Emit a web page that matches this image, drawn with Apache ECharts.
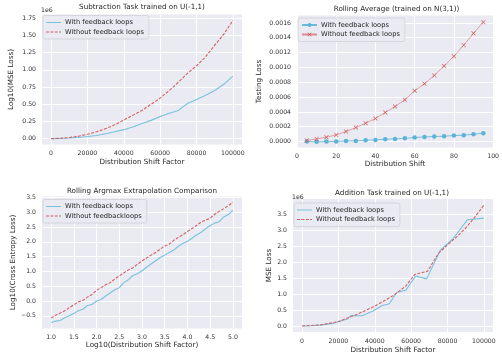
<!DOCTYPE html>
<html><head><meta charset="utf-8">
<script src="https://cdn.jsdelivr.net/npm/echarts@6/dist/echarts.min.js"></script>
<style>html,body{margin:0;padding:0;background:#fff}#c{width:502px;height:356px}</style>
</head><body><div id="c"></div>
<script>
// ---------- Panel 1: Subtraction Task (values in units of 1e6) ----------
const p1X = [0,5000,10000,15000,20000,25000,30000,35000,40000,45000,50000,55000,60000,65000,70000,75000,80000,85000,90000,95000,100000];
const p1With = [0,0.002,0.008,0.017,0.03,0.045,0.07,0.10,0.13,0.17,0.22,0.265,0.32,0.37,0.41,0.51,0.57,0.63,0.70,0.79,0.91];
const p1Without = [0,0.004,0.015,0.035,0.062,0.10,0.145,0.20,0.27,0.34,0.41,0.50,0.59,0.70,0.82,0.95,1.06,1.19,1.36,1.52,1.72];
const p1XTicks = [0,20000,40000,60000,80000,100000];
const p1YTicks = [0,0.25,0.5,0.75,1.0,1.25,1.5,1.75];

// ---------- Panel 2: Rolling Average ----------
const p2X = [5,10,15,20,25,30,35,40,45,50,55,60,65,70,75,80,85,90,95];
const p2With = [0.0,-0.000004,0.0,0.0,0.000009,0.000009,0.000018,0.000022,0.000032,0.000036,0.000045,0.000054,0.000063,0.000068,0.000072,0.000081,0.000086,0.000099,0.000113];
const p2Without = [0.0000135,0.000036,0.000059,0.00009,0.000135,0.000189,0.000248,0.000311,0.000392,0.000473,0.000563,0.000685,0.00078,0.000892,0.00102,0.00115,0.0013,0.00146,0.00161];
const p2XTicks = [0,20,40,60,80,100];
const p2YTicks = [0,0.0002,0.0004,0.0006,0.0008,0.0010,0.0012,0.0014,0.0016];

// ---------- Panel 3: Rolling Argmax ----------
const p3X = [1.0,1.1,1.2,1.3,1.4,1.5,1.6,1.7,1.8,1.9,2.0,2.1,2.2,2.3,2.4,2.5,2.6,2.7,2.8,2.9,3.0,3.1,3.2,3.3,3.4,3.5,3.6,3.7,3.8,3.9,4.0,4.1,4.2,4.3,4.4,4.5,4.6,4.7,4.8,4.9,5.0];
const p3With = [-0.73,-0.68,-0.66,-0.57,-0.50,-0.42,-0.33,-0.28,-0.15,-0.12,0.00,0.05,0.17,0.27,0.38,0.45,0.62,0.72,0.86,0.92,1.02,1.14,1.25,1.36,1.47,1.55,1.64,1.72,1.85,1.94,2.02,2.12,2.23,2.32,2.44,2.55,2.63,2.68,2.84,2.92,3.07];
const p3Without = [-0.58,-0.48,-0.41,-0.33,-0.23,-0.13,-0.03,0.02,0.13,0.22,0.36,0.45,0.55,0.62,0.74,0.85,0.95,1.05,1.12,1.24,1.35,1.45,1.55,1.64,1.75,1.86,1.92,2.05,2.15,2.24,2.35,2.45,2.55,2.67,2.73,2.80,2.93,3.03,3.12,3.22,3.33];
const p3XTicks = [1.0,1.5,2.0,2.5,3.0,3.5,4.0,4.5,5.0];
const p3YTicks = [-0.5,0,0.5,1.0,1.5,2.0,2.5,3.0,3.5];

// ---------- Panel 4: Addition Task (values in units of 1e6) ----------
const p4WithX = [0,5000,10000,17000,22000,25000,27000,33000,39000,44000,48000,52000,57000,62500,68500,76000,83000,91000,100000];
const p4With = [0,0.005,0.025,0.08,0.17,0.22,0.33,0.32,0.47,0.64,0.70,1.05,1.12,1.57,1.48,2.38,2.74,3.34,3.39];
const p4WithoutX = [0,10000,20000,30000,40000,50000,57000,62000,69000,75000,80000,85000,90000,95000,100000];
const p4Without = [0,0.03,0.14,0.36,0.62,0.95,1.25,1.62,1.72,2.28,2.55,2.80,3.08,3.42,3.80];
const p4XTicks = [0,20000,40000,60000,80000,100000];
const p4YTicks = [0,0.5,1.0,1.5,2.0,2.5,3.0,3.5];

const names = {
  p1a:'With feedback loops', p1b:'Without feedback loops',
  p2a:'With feedback loops', p2b:'Without feedback loops',
  p3a:'With feedback loops', p3b:'Without feedbackloops',
  p4a:'With feedback loops', p4b:'Without feedback loops'
};

const FONT = 'DejaVu Sans';
const BLUE = '#78c2df';
const RED = '#d2605f';
const SOLID_ICON = 'path://M0,0H15V1H0Z';
const DASH_ICON = 'path://M0,0H3V1H0ZM4.4,0H7.4V1H4.4ZM8.8,0H11.8V1H8.8ZM13.2,0H15V1H13.2Z';
const zip = (xs, ys) => xs.map((x, i) => [x, ys[i]]);
const fmtNum = (d) => (v) => { const s = Number(v).toFixed(d); return s.startsWith('-') ? '\u2212' + s.slice(1) : s; };

function axis(gi, min, max, ticks, fmt, name, gap) {
  return {
    type:'value', gridIndex:gi, min:min, max:max,
    name:name, nameLocation:'middle', nameGap:gap,
    nameTextStyle:{fontFamily:FONT, fontSize:7.2, color:'#262626'},
    axisLine:{show:false}, axisTick:{show:false, customValues:ticks},
    axisLabel:{customValues:ticks, formatter:fmt, fontFamily:FONT, fontSize:6.2, color:'#333', margin:6},
    splitLine:{show:true, lineStyle:{color:'#ffffff', width:1}}
  };
}
function legend(data, left, top, h) {
  return {
    data:data, orient:'vertical', left:left, top:top,
    itemWidth:15, itemHeight:h, itemGap:1.5,
    padding:[3,5,3,3],
    backgroundColor:'rgba(234,234,242,0.85)', borderColor:'#cfcfd6', borderWidth:0.8, borderRadius:2,
    formatter:(n) => names[n],
    textStyle:{fontFamily:FONT, fontSize:6.7, color:'#262626', lineHeight:8, height:8, padding:[0,0,0,-1]},
    selectedMode:false
  };
}
function titleText(x, y, t) {
  return {type:'text', x:x, y:y, silent:true,
    style:{text:t, align:'center', verticalAlign:'middle', fontFamily:FONT, fontSize:7.2, fill:'#262626'}};
}
function smallText(x, y, t) {
  return {type:'text', x:x, y:y, silent:true,
    style:{text:t, align:'left', verticalAlign:'middle', fontFamily:FONT, fontSize:6.2, fill:'#333'}};
}
const gridBase = {show:true, backgroundColor:'#EAEAF2', borderWidth:0, containLabel:false};
const lineS = (name, xi, data, color, dashed) => ({
  name:name, type:'line', xAxisIndex:xi, yAxisIndex:xi, data:data,
  showSymbol:false, symbol:'none', animation:false, silent:true,
  lineStyle:{color:color, width:1.1, type: dashed ? [3,1.5] : 'solid'},
  itemStyle:{color:color}
});

const option = {
  animation:false,
  grid:[
    Object.assign({left:42, top:14.5, width:200, height:130}, gridBase),
    Object.assign({left:297, top:15.5, width:199, height:132}, gridBase),
    Object.assign({left:42, top:196.5, width:200, height:132}, gridBase),
    Object.assign({left:293, top:199, width:200, height:133}, gridBase)
  ],
  xAxis:[
    axis(0, -5000, 105000, p1XTicks, fmtNum(0), 'Distribution Shift Factor', 14.5),
    axis(1, 0, 100, p2XTicks, fmtNum(0), 'Distribution Shift', 13),
    axis(2, 0.8, 5.2, p3XTicks, fmtNum(1), 'Log10(Distribution Shift Factor)', 12),
    axis(3, -5000, 105000, p4XTicks, fmtNum(0), 'Distribution Shift Factor', 15)
  ],
  yAxis:[
    axis(0, -0.086, 1.806, p1YTicks, fmtNum(2), 'Log10(MSE Loss)', 27),
    axis(1, -0.00008, 0.0017, p2YTicks, fmtNum(4), 'Testing Loss', 34.5),
    axis(2, -0.93, 3.53, p3YTicks, fmtNum(1), 'Log10(Cross Entropy Loss)', 25.5),
    axis(3, -0.19, 3.99, p4YTicks, fmtNum(1), 'MSE Loss', 20.5)
  ],
  legend:[
    legend([{name:'p1a', icon:SOLID_ICON}, {name:'p1b', icon:DASH_ICON}], 43, 15.5, 1.1),
    legend(['p2a','p2b'], 298, 18, 5),
    legend([{name:'p3a', icon:SOLID_ICON}, {name:'p3b', icon:DASH_ICON}], 43, 199.5, 1.1),
    legend([{name:'p4a', icon:SOLID_ICON}, {name:'p4b', icon:DASH_ICON}], 294, 203, 1.1)
  ],
  series:[
    lineS('p1a', 0, zip(p1X, p1With), BLUE, false),
    lineS('p1b', 0, zip(p1X, p1Without), RED, true),
    {
      name:'p2a', type:'line', xAxisIndex:1, yAxisIndex:1, data:zip(p2X, p2With),
      symbol:'circle', symbolSize:4.5, showSymbol:true, silent:true,
      lineStyle:{color:'#6bbad9', width:0.9}, itemStyle:{color:'#5cb3d6'}
    },
    {
      name:'p2b', type:'line', xAxisIndex:1, yAxisIndex:1, data:zip(p2X, p2Without),
      symbol:'path://M0,1L1,0L5,4L9,0L10,1L6,5L10,9L9,10L5,6L1,10L0,9L4,5Z', symbolSize:4.5, showSymbol:true, silent:true,
      lineStyle:{color:'rgba(214,110,110,0.75)', width:0.8}, itemStyle:{color:'#d05a5a'}
    },
    lineS('p3a', 2, zip(p3X, p3With), BLUE, false),
    lineS('p3b', 2, zip(p3X, p3Without), RED, true),
    lineS('p4a', 3, zip(p4WithX, p4With), BLUE, false),
    lineS('p4b', 3, zip(p4WithoutX, p4Without), RED, true)
  ],
  graphic:[
    titleText(142, 7, 'Subtraction Task trained on U(-1,1)'),
    titleText(396.5, 9, 'Rolling Average (trained on N(3,1))'),
    titleText(142, 191.5, 'Rolling Argmax Extrapolation Comparison'),
    titleText(392, 193.5, 'Addition Task trained on U(-1,1)'),
    smallText(41, 10.5, '1e6'),
    smallText(292, 197, '1e6')
  ]
};
const chart = echarts.init(document.getElementById('c'), null, {renderer:'canvas'});
chart.setOption(option);
</script>
</body></html>
